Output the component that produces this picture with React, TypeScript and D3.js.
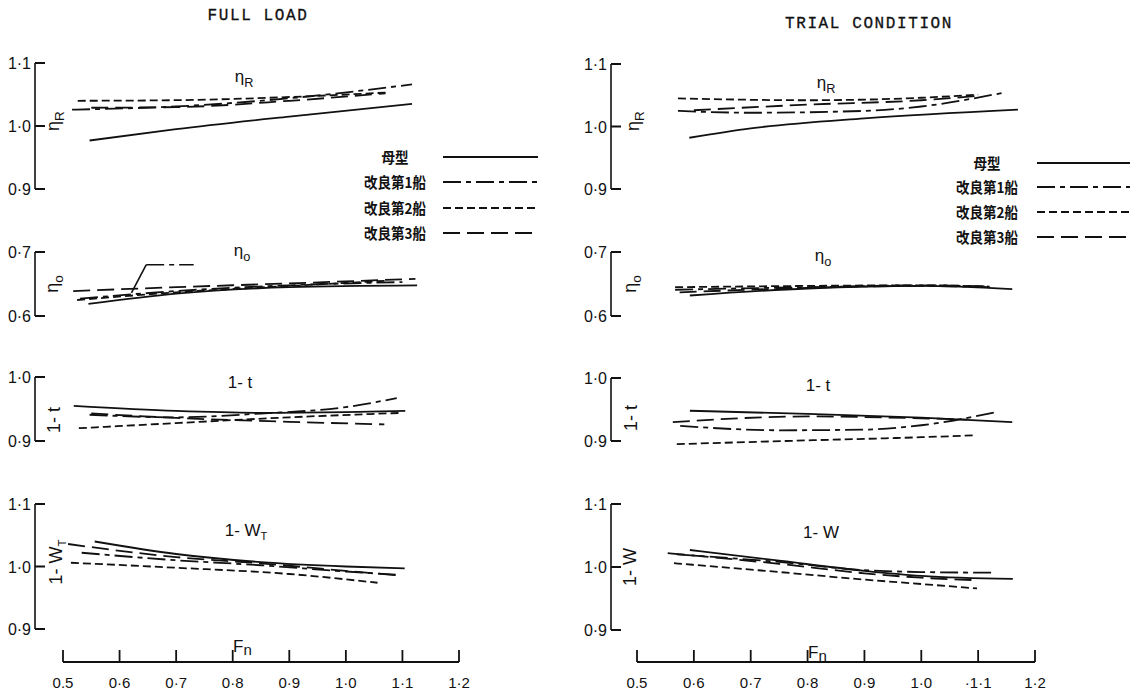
import React from 'react';
import * as d3 from 'd3';

type Pt = [number, number];

const SERIES_NAMES = ['母型', '改良第1船', '改良第2船', '改良第3船'];
const X_TICKS = [0.5, 0.6, 0.7, 0.8, 0.9, 1.0, 1.1, 1.2];
const X_TICK_LABELS = ['0.5', '0·6', '0·7', '0·8', '0·9', '1·0', '1·1', '1·2'];
const X_TICK_LABELS_TRIAL = ['0.5', '0·6', '0·7', '0·8', '0·9', '1·0', '·1·1', '1·2'];
const TICKS_ETA_R = [1.1, 1.0, 0.9];
const TICKS_ETA_O = [0.7, 0.6];
const TICKS_ONE_T = [1.0, 0.9];
const TICKS_ONE_W = [1.1, 1.0, 0.9];

// ---------- FULL LOAD ----------
const FL_ETA_R_0: Pt[] = [[0.547, 0.977], [0.7, 0.995], [0.9, 1.015], [1.117, 1.035]];
const FL_ETA_R_1: Pt[] = [[0.516, 1.026], [0.7, 1.031], [0.9, 1.044], [1.117, 1.066]];
const FL_ETA_R_2: Pt[] = [[0.526, 1.040], [0.7, 1.041], [0.9, 1.046], [1.07, 1.053]];
const FL_ETA_R_3: Pt[] = [[0.55, 1.029], [0.7, 1.030], [0.9, 1.040], [1.07, 1.052]];

const FL_ETA_O_0: Pt[] = [[0.545, 0.619], [0.7, 0.635], [0.9, 0.645], [1.126, 0.648]];
const FL_ETA_O_1: Pt[] = [[0.53, 0.627], [0.7, 0.639], [0.9, 0.648], [1.1, 0.653]];
const FL_ETA_O_2: Pt[] = [[0.525, 0.625], [0.7, 0.637], [0.9, 0.647], [1.07, 0.655]];
const FL_ETA_O_3: Pt[] = [[0.518, 0.639], [0.7, 0.645], [0.9, 0.651], [1.123, 0.658]];
const FL_ETA_O_LEADER: Pt[] = [[0.621, 0.636], [0.647, 0.680]];
const FL_ETA_O_LEADER_TAIL: Pt[] = [[0.647, 0.680], [0.731, 0.680]];

const FL_ONE_T_0: Pt[] = [[0.519, 0.955], [0.7, 0.947], [0.85, 0.944], [1.0, 0.945], [1.105, 0.947]];
const FL_ONE_T_1: Pt[] = [[0.547, 0.941], [0.7, 0.937], [0.85, 0.943], [1.0, 0.953], [1.09, 0.967]];
const FL_ONE_T_2: Pt[] = [[0.528, 0.920], [0.7, 0.928], [0.9, 0.937], [1.1, 0.944]];
const FL_ONE_T_3: Pt[] = [[0.55, 0.943], [0.7, 0.936], [0.9, 0.930], [1.068, 0.926]];

const FL_ONE_W_0: Pt[] = [[0.556, 1.040], [0.7, 1.020], [0.85, 1.007], [1.0, 1.000], [1.104, 0.997]];
const FL_ONE_W_1: Pt[] = [[0.533, 1.022], [0.7, 1.010], [0.85, 1.002], [1.0, 0.992], [1.088, 0.987]];
const FL_ONE_W_2: Pt[] = [[0.514, 1.006], [0.7, 0.998], [0.9, 0.988], [1.056, 0.974]];
const FL_ONE_W_3: Pt[] = [[0.509, 1.036], [0.7, 1.015], [0.85, 1.005], [1.0, 0.993], [1.09, 0.986]];

// ---------- TRIAL CONDITION ----------
const TR_ETA_R_0: Pt[] = [[0.592, 0.982], [0.7, 0.997], [0.9, 1.013], [1.17, 1.027]];
const TR_ETA_R_1: Pt[] = [[0.572, 1.025], [0.7, 1.022], [0.9, 1.025], [1.0, 1.032], [1.144, 1.054]];
const TR_ETA_R_2: Pt[] = [[0.572, 1.045], [0.8, 1.042], [1.0, 1.046], [1.10, 1.051]];
const TR_ETA_R_3: Pt[] = [[0.60, 1.026], [0.8, 1.035], [1.0, 1.042], [1.10, 1.049]];

const TR_ETA_O_0: Pt[] = [[0.593, 0.632], [0.8, 0.643], [1.0, 0.647], [1.16, 0.642]];
const TR_ETA_O_1: Pt[] = [[0.567, 0.641], [0.8, 0.645], [1.0, 0.647], [1.12, 0.645]];
const TR_ETA_O_2: Pt[] = [[0.567, 0.645], [0.8, 0.647], [1.0, 0.648], [1.12, 0.646]];
const TR_ETA_O_3: Pt[] = [[0.575, 0.637], [0.8, 0.644], [1.0, 0.648], [1.12, 0.646]];

const TR_ONE_T_0: Pt[] = [[0.593, 0.948], [0.8, 0.943], [1.0, 0.937], [1.16, 0.930]];
const TR_ONE_T_1: Pt[] = [[0.576, 0.924], [0.75, 0.917], [0.9, 0.918], [1.0, 0.925], [1.133, 0.946]];
const TR_ONE_T_2: Pt[] = [[0.570, 0.895], [0.8, 0.901], [1.0, 0.906], [1.095, 0.909]];
const TR_ONE_T_3: Pt[] = [[0.563, 0.930], [0.8, 0.939], [1.0, 0.936], [1.08, 0.934]];

const TR_ONE_W_0: Pt[] = [[0.593, 1.027], [0.75, 1.010], [0.9, 0.994], [1.0, 0.986], [1.161, 0.981]];
const TR_ONE_W_1: Pt[] = [[0.57, 1.020], [0.75, 1.008], [0.9, 0.995], [1.0, 0.992], [1.126, 0.991]];
const TR_ONE_W_2: Pt[] = [[0.565, 1.006], [0.75, 0.992], [0.9, 0.980], [1.0, 0.973], [1.098, 0.966]];
const TR_ONE_W_3: Pt[] = [[0.554, 1.022], [0.75, 1.005], [0.9, 0.990], [1.0, 0.983], [1.10, 0.979]];

// ---------- styling ----------
const DASHES = ['', '18,5,5,5', '8,4', '17,7'];
const INK = '#111';
const TICK_FONT = '"Liberation Sans", Arial, sans-serif';
const CJK_FONT = '"Noto Sans CJK JP", "Noto Sans CJK SC", sans-serif';
const MONO_FONT = '"Liberation Mono", "DejaVu Sans Mono", monospace';

const fmtY = (v: number) => v.toFixed(1).replace('.', '·');

type PanelCfg = {
  series: Pt[][];
  ticks: number[];
  domain: [number, number];
  range: [number, number];
  label: React.ReactNode;
  labelPos: [number, number];
  axisLabel: React.ReactNode;
  axisLabelPos: [number, number];
  extra?: { pts: Pt[]; dash: string }[];
};

type SideCfg = {
  title: string;
  titlePos: [number, number];
  titleSpacing: number;
  axisX: number;
  xRange: [number, number];
  xTickLabels: string[];
  xAxisY: number;
  fnPos: [number, number];
  panels: PanelCfg[];
  legendTextX: number;
  legendLine: [number, number];
  legendRows: number[];
};

const Eta = ({ sub }: { sub: string }) => (
  <>
    <tspan>η</tspan>
    <tspan fontSize="0.75em" dy="5">{sub}</tspan>
  </>
);

const OneW = ({ sub }: { sub?: string }) => (
  <>
    <tspan>1- W</tspan>
    {sub ? <tspan fontSize="0.65em" dy="4">{sub}</tspan> : null}
  </>
);

const Side = ({ cfg }: { cfg: SideCfg }) => {
  const x = d3.scaleLinear().domain([0.5, 1.2]).range(cfg.xRange);
  return (
    <g>
      <text
        x={cfg.titlePos[0]}
        y={cfg.titlePos[1]}
        fontFamily={MONO_FONT}
        fontSize={16}
        letterSpacing={cfg.titleSpacing}
        textAnchor="middle"
        fill={INK}
        stroke={INK}
        strokeWidth={0.3}
      >
        {cfg.title}
      </text>
      {cfg.panels.map((p, pi) => {
        const y = d3.scaleLinear().domain(p.domain).range(p.range);
        const line = d3
          .line<Pt>()
          .x((d) => x(d[0]))
          .y((d) => y(d[1]))
          .curve(d3.curveMonotoneX);
        const straight = d3
          .line<Pt>()
          .x((d) => x(d[0]))
          .y((d) => y(d[1]));
        const yTop = y(d3.max(p.ticks) as number);
        const yBot = y(d3.min(p.ticks) as number);
        return (
          <g key={pi}>
            <line x1={cfg.axisX} x2={cfg.axisX} y1={yTop} y2={yBot} stroke={INK} strokeWidth={1.6} />
            {p.ticks.map((t) => (
              <g key={t}>
                <line x1={cfg.axisX} x2={cfg.axisX + 10} y1={y(t)} y2={y(t)} stroke={INK} strokeWidth={2} />
                <text
                  x={cfg.axisX - 4}
                  y={y(t) + 6}
                  textAnchor="end"
                  fontFamily={TICK_FONT}
                  fontSize={16}
                  fill={INK}
                >
                  {fmtY(t)}
                </text>
              </g>
            ))}
            <text
              transform={`translate(${p.axisLabelPos[0]},${p.axisLabelPos[1]}) rotate(-90)`}
              textAnchor="middle"
              fontFamily={TICK_FONT}
              fontSize={18}
              fill={INK}
            >
              {p.axisLabel}
            </text>
            <text
              x={p.labelPos[0]}
              y={p.labelPos[1]}
              textAnchor="middle"
              fontFamily={TICK_FONT}
              fontSize={17}
              fill={INK}
            >
              {p.label}
            </text>
            {p.series.map((s, si) => (
              <path
                key={si}
                d={line(s) || ''}
                fill="none"
                stroke={INK}
                strokeWidth={1.8}
                strokeDasharray={DASHES[si]}
              />
            ))}
            {(p.extra || []).map((e, ei) => (
              <path
                key={'e' + ei}
                d={straight(e.pts) || ''}
                fill="none"
                stroke={INK}
                strokeWidth={1.6}
                strokeDasharray={e.dash}
              />
            ))}
          </g>
        );
      })}
      <line x1={x(0.5)} x2={x(1.2)} y1={cfg.xAxisY} y2={cfg.xAxisY} stroke={INK} strokeWidth={2} />
      {X_TICKS.map((t, i) => (
        <g key={t}>
          <line x1={x(t)} x2={x(t)} y1={cfg.xAxisY} y2={cfg.xAxisY - 12} stroke={INK} strokeWidth={1.8} />
          <text
            x={x(t)}
            y={cfg.xAxisY + 26}
            textAnchor="middle"
            fontFamily={TICK_FONT}
            fontSize={15}
            fill={INK}
          >
            {cfg.xTickLabels[i]}
          </text>
        </g>
      ))}
      <text x={cfg.fnPos[0]} y={cfg.fnPos[1]} fontFamily={TICK_FONT} fontSize={17} fill={INK}>
        <tspan>F</tspan>
        <tspan fontSize="15" dy="3">n</tspan>
      </text>
      {SERIES_NAMES.map((name, i) => (
        <g key={name}>
          <text
            transform={`translate(${cfg.legendTextX},${cfg.legendRows[i] + 6}) scale(0.9,1)`}
            textAnchor="middle"
            fontFamily={CJK_FONT}
            fontWeight={700}
            fontSize={15}
            fill={INK}
          >
            {name}
          </text>
          <line
            x1={cfg.legendLine[0]}
            x2={cfg.legendLine[1]}
            y1={cfg.legendRows[i]}
            y2={cfg.legendRows[i]}
            stroke={INK}
            strokeWidth={1.8}
            strokeDasharray={DASHES[i]}
          />
        </g>
      ))}
    </g>
  );
};

const LEFT: SideCfg = {
  title: 'FULL LOAD',
  titlePos: [258, 20],
  titleSpacing: 1.6,
  axisX: 35,
  xRange: [63, 459],
  xTickLabels: X_TICK_LABELS,
  xAxisY: 662,
  fnPos: [233, 652],
  legendTextX: 395,
  legendLine: [443, 538],
  legendRows: [157, 182, 208, 233],
  panels: [
    {
      series: [FL_ETA_R_0, FL_ETA_R_1, FL_ETA_R_2, FL_ETA_R_3],
      ticks: TICKS_ETA_R,
      domain: [0.9, 1.1],
      range: [189, 63],
      label: <Eta sub="R" />,
      labelPos: [244, 82],
      axisLabel: <Eta sub="R" />,
      axisLabelPos: [59, 121],
    },
    {
      series: [FL_ETA_O_0, FL_ETA_O_1, FL_ETA_O_2, FL_ETA_O_3],
      ticks: TICKS_ETA_O,
      domain: [0.6, 0.7],
      range: [316, 252],
      label: <Eta sub="o" />,
      labelPos: [242, 256],
      axisLabel: <Eta sub="o" />,
      axisLabelPos: [58, 284],
      extra: [
        { pts: FL_ETA_O_LEADER, dash: '' },
        { pts: FL_ETA_O_LEADER_TAIL, dash: '18,5,5,5' },
      ],
    },
    {
      series: [FL_ONE_T_0, FL_ONE_T_1, FL_ONE_T_2, FL_ONE_T_3],
      ticks: TICKS_ONE_T,
      domain: [0.9, 1.0],
      range: [441, 377],
      label: '1- t',
      labelPos: [240, 388],
      axisLabel: '1- t',
      axisLabelPos: [60, 420],
    },
    {
      series: [FL_ONE_W_0, FL_ONE_W_1, FL_ONE_W_2, FL_ONE_W_3],
      ticks: TICKS_ONE_W,
      domain: [0.9, 1.1],
      range: [629, 504],
      label: <OneW sub="T" />,
      labelPos: [246, 536],
      axisLabel: <OneW sub="T" />,
      axisLabelPos: [62, 562],
    },
  ],
};

const RIGHT: SideCfg = {
  title: 'TRIAL CONDITION',
  titlePos: [869, 28],
  titleSpacing: 1.6,
  axisX: 611,
  xRange: [637, 1035],
  xTickLabels: X_TICK_LABELS_TRIAL,
  xAxisY: 662,
  fnPos: [808, 658],
  legendTextX: 987,
  legendLine: [1037, 1130],
  legendRows: [163, 187, 212, 237],
  panels: [
    {
      series: [TR_ETA_R_0, TR_ETA_R_1, TR_ETA_R_2, TR_ETA_R_3],
      ticks: TICKS_ETA_R,
      domain: [0.9, 1.1],
      range: [189, 64],
      label: <Eta sub="R" />,
      labelPos: [826, 88],
      axisLabel: <Eta sub="R" />,
      axisLabelPos: [639, 121],
    },
    {
      series: [TR_ETA_O_0, TR_ETA_O_1, TR_ETA_O_2, TR_ETA_O_3],
      ticks: TICKS_ETA_O,
      domain: [0.6, 0.7],
      range: [316, 252],
      label: <Eta sub="o" />,
      labelPos: [823, 261],
      axisLabel: <Eta sub="o" />,
      axisLabelPos: [636, 284],
    },
    {
      series: [TR_ONE_T_0, TR_ONE_T_1, TR_ONE_T_2, TR_ONE_T_3],
      ticks: TICKS_ONE_T,
      domain: [0.9, 1.0],
      range: [441, 378],
      label: '1- t',
      labelPos: [818, 391],
      axisLabel: '1- t',
      axisLabelPos: [637, 418],
    },
    {
      series: [TR_ONE_W_0, TR_ONE_W_1, TR_ONE_W_2, TR_ONE_W_3],
      ticks: TICKS_ONE_W,
      domain: [0.9, 1.1],
      range: [630, 504],
      label: <OneW />,
      labelPos: [821, 538],
      axisLabel: <OneW />,
      axisLabelPos: [636, 567],
    },
  ],
};

export default function App() {
  return (
    <svg
      width={1137}
      height={692}
      style={{ position: 'absolute', left: 0, top: 0, background: '#fff' }}
    >
      <rect x={0} y={0} width={1137} height={692} fill="#fff" />
      <Side cfg={LEFT} />
      <Side cfg={RIGHT} />
    </svg>
  );
}
